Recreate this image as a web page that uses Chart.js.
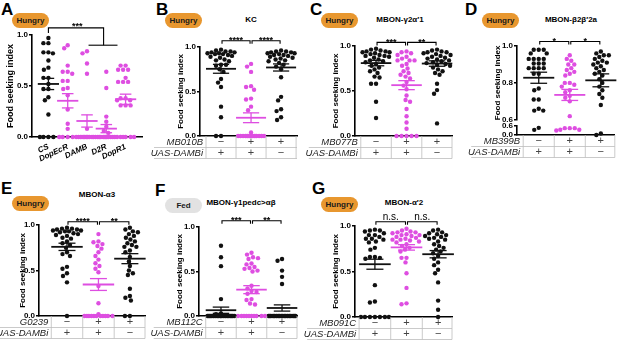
<!DOCTYPE html>
<html lang="en">
<head>
<meta charset="UTF-8">
<title>Food seeking index</title>
<script src="https://cdn.jsdelivr.net/npm/chart.js"></script>
<style>
  body { margin: 0; background: #fff; }
  #fig { position: relative; width: 617px; height: 340px; overflow: hidden; font-family: 'Liberation Sans', Arial, sans-serif; color: #000; }
  #fig canvas { position: absolute; }
  .letter { position: absolute; font-weight: bold; font-size: 17px; line-height: 17px; }
  .pill { position: absolute; width: 37px; height: 15px; line-height: 15px; border-radius: 8px; text-align: center; font-weight: bold; font-size: 8px; color: #1a1a1a; }
  .hungry { background: #e8972f; }
  .fed { background: #e2e2e2; }
  .ptitle { position: absolute; font-weight: bold; font-size: 8px; line-height: 10px; transform: translateX(-50%); white-space: nowrap; }
</style>
</head>
<body>
<div id="fig">
  <div class="letter" style="left:1px;top:1px">A</div>
  <div class="letter" style="left:156px;top:1px">B</div>
  <div class="letter" style="left:310px;top:1px">C</div>
  <div class="letter" style="left:465px;top:1px">D</div>
  <div class="letter" style="left:1px;top:180px">E</div>
  <div class="letter" style="left:155px;top:182px">F</div>
  <div class="letter" style="left:312px;top:180px">G</div>

  <div class="pill hungry" style="left:12px;top:13px">Hungry</div>
  <div class="pill hungry" style="left:165px;top:13px">Hungry</div>
  <div class="pill hungry" style="left:321px;top:13px">Hungry</div>
  <div class="pill hungry" style="left:482px;top:13px">Hungry</div>
  <div class="pill hungry" style="left:12px;top:196px">Hungry</div>
  <div class="pill fed" style="left:165px;top:198px">Fed</div>
  <div class="pill hungry" style="left:321px;top:197px">Hungry</div>

  <div class="ptitle" style="left:251px;top:15px">KC</div>
  <div class="ptitle" style="left:400px;top:15px">MBON-γ2α′1</div>
  <div class="ptitle" style="left:571px;top:15px">MBON-β2β′2a</div>
  <div class="ptitle" style="left:97px;top:190px">MBON-α3</div>
  <div class="ptitle" style="left:241px;top:198px">MBON-γ1pedc&gt;αβ</div>
  <div class="ptitle" style="left:404px;top:198px">MBON-α′2</div>
</div>

<script>
    // ---- values ----
    const aGroups = ['CS', 'DopEcR', 'DAMB', 'D2R', 'DopR1'];
    const aValues = [
        [0.97, 0.92, 0.92, 0.83, 0.82, 0.83, 0.75, 0.68, 0.66, 0.58, 0.58, 0.52, 0.47, 0.47, 0.39, 0.36, 0.22, 0, 0, 0, 0],
        [0.90, 0.87, 0.70, 0.64, 0.64, 0.62, 0.55, 0.55, 0.48, 0.47, 0.41, 0.27, 0.13, 0.08, 0, 0, 0, 0, 0],
        [0.84, 0.82, 0.72, 0.62, 0.08, 0, 0, 0, 0, 0, 0, 0, 0, 0, 0, 0, 0],
        [0.64, 0.48, 0.20, 0.15, 0.10, 0.06, 0.04, 0, 0, 0, 0, 0, 0, 0, 0, 0, 0, 0],
        [0.70, 0.70, 0.66, 0.66, 0.66, 0.58, 0.54, 0.54, 0.54, 0.38, 0.38, 0.36, 0.36, 0.31, 0.31, 0.31, 0, 0, 0, 0, 0, 0]
    ];
    const aMeans = [0.52, 0.355, 0.157, 0.082, 0.37];
    const aSems = [0.055, 0.07, 0.06, 0.04, 0.05];

    // genotype table shared by B-G
    const driverSigns = ['−', '+', '+'];
    const uasSigns = ['+', '+', '−'];
    const uasName = 'UAS-DAMBi';

    const bDriver = 'MB010B';
    const bValues = [
        [0.97, 0.96, 0.95, 0.95, 0.94, 0.94, 0.93, 0.93, 0.92, 0.92, 0.91, 0.90, 0.89, 0.88, 0.86, 0.85, 0.84, 0.80, 0.80, 0.79, 0.75, 0.72, 0.64, 0.60, 0.55, 0.33, 0.21, 0, 0],
        [0.81, 0.78, 0.72, 0.56, 0.55, 0.52, 0.42, 0.41, 0.33, 0.29, 0.04, 0, 0, 0, 0, 0, 0, 0, 0, 0, 0, 0, 0, 0, 0, 0],
        [0.96, 0.95, 0.95, 0.94, 0.94, 0.93, 0.93, 0.92, 0.91, 0.91, 0.90, 0.89, 0.88, 0.87, 0.86, 0.85, 0.84, 0.82, 0.80, 0.78, 0.75, 0.66, 0.44, 0.40, 0.30, 0.28, 0.21, 0.18]
    ];
    const bMeans = [0.755, 0.205, 0.77];
    const bSems = [0.05, 0.055, 0.04];
    const bStars = ['****', '****'];

    const cDriver = 'MB077B';
    const cValues = [
        [0.97, 0.96, 0.95, 0.94, 0.94, 0.93, 0.93, 0.92, 0.91, 0.90, 0.89, 0.89, 0.88, 0.87, 0.85, 0.84, 0.83, 0.82, 0.80, 0.78, 0.76, 0.74, 0.72, 0.70, 0.66, 0.65, 0.58, 0.58, 0.38, 0.20],
        [0.94, 0.93, 0.92, 0.90, 0.88, 0.86, 0.84, 0.84, 0.84, 0.80, 0.78, 0.75, 0.72, 0.70, 0.68, 0.66, 0.64, 0.60, 0.56, 0.52, 0.45, 0.40, 0.38, 0.30, 0.22, 0.15, 0.08, 0, 0, 0, 0, 0],
        [0.96, 0.95, 0.94, 0.93, 0.93, 0.92, 0.91, 0.90, 0.89, 0.88, 0.87, 0.86, 0.85, 0.84, 0.83, 0.82, 0.81, 0.80, 0.79, 0.78, 0.76, 0.74, 0.72, 0.70, 0.68, 0.58, 0.51, 0.47, 0.14]
    ];
    const cMeans = [0.81, 0.565, 0.805];
    const cSems = [0.03, 0.05, 0.03];
    const cStars = ['***', '**'];

    const dDriver = 'MB399B';
    const dValues = [
        [0.98, 0.98, 0.98, 0.96, 0.96, 0.93, 0.93, 0.93, 0.93, 0.905, 0.905, 0.905, 0.88, 0.88, 0.88, 0.88, 0.85, 0.85, 0.77, 0.76, 0.71, 0.71, 0.66, 0.65, 0.65, 0.47, 0.34],
        [0.95, 0.93, 0.92, 0.90, 0.90, 0.88, 0.87, 0.86, 0.85, 0.84, 0.80, 0.80, 0.79, 0.78, 0.76, 0.75, 0.73, 0.72, 0.70, 0.62, 0.45, 0.35, 0.45, 0.30, 0.45, 0.35],
        [0.97, 0.96, 0.95, 0.95, 0.94, 0.93, 0.92, 0.91, 0.91, 0.90, 0.89, 0.88, 0.87, 0.86, 0.85, 0.84, 0.82, 0.80, 0.78, 0.76, 0.74, 0.72, 0.68, 0.10, 0]
    ];
    const dMeans = [0.828, 0.735, 0.814];
    const dSems = [0.03, 0.03, 0.035];
    const dStars = ['*', '*'];

    const eDriver = 'G0239';
    const eValues = [
        [0.97, 0.96, 0.96, 0.95, 0.95, 0.94, 0.94, 0.93, 0.93, 0.92, 0.91, 0.90, 0.89, 0.88, 0.86, 0.85, 0.82, 0.80, 0.78, 0.75, 0.70, 0.68, 0.66, 0.54, 0.52, 0.47, 0.44, 0.37, 0],
        [0.90, 0.82, 0.81, 0.79, 0.77, 0.74, 0.70, 0.66, 0.62, 0.58, 0.55, 0.52, 0.48, 0.33, 0.14, 0.02, 0, 0, 0, 0, 0, 0, 0, 0, 0, 0, 0],
        [0.97, 0.95, 0.93, 0.92, 0.90, 0.88, 0.86, 0.84, 0.82, 0.80, 0.78, 0.76, 0.76, 0.72, 0.70, 0.65, 0.60, 0.55, 0.50, 0.47, 0.45, 0.30, 0.22, 0.20, 0.17, 0, 0]
    ];
    const eMeans = [0.76, 0.346, 0.63];
    const eSems = [0.04, 0.065, 0.055];
    const eStars = ['****', '**'];

    const fDriver = 'MB112C';
    const fValues = [
        [0.79, 0.66, 0.56, 0.19, 0.03, 0.02, 0, 0, 0, 0, 0, 0, 0, 0, 0, 0, 0, 0, 0, 0, 0, 0, 0, 0, 0, 0, 0, 0, 0, 0],
        [0.71, 0.69, 0.66, 0.65, 0.64, 0.59, 0.58, 0.55, 0.54, 0.53, 0.51, 0.50, 0.34, 0.31, 0.28, 0.27, 0.25, 0.19, 0.18, 0.14, 0.13, 0, 0, 0, 0, 0, 0, 0, 0, 0, 0],
        [0.64, 0.62, 0.51, 0.44, 0.36, 0, 0, 0, 0, 0, 0, 0, 0, 0, 0, 0, 0, 0, 0, 0, 0, 0, 0, 0, 0, 0, 0, 0]
    ];
    const fMeans = [0.065, 0.296, 0.09];
    const fSems = [0.035, 0.045, 0.035];
    const fStars = ['***', '**'];

    const gDriver = 'MB091C';
    const gValues = [
        [0.96, 0.95, 0.95, 0.94, 0.92, 0.90, 0.90, 0.88, 0.86, 0.86, 0.85, 0.83, 0.82, 0.76, 0.74, 0.66, 0.66, 0.65, 0.64, 0.35, 0.17, 0.16, 0, 0, 0, 0, 0, 0, 0],
        [0.97, 0.95, 0.94, 0.93, 0.93, 0.92, 0.91, 0.90, 0.90, 0.89, 0.88, 0.87, 0.86, 0.85, 0.85, 0.84, 0.83, 0.82, 0.80, 0.78, 0.76, 0.74, 0.72, 0.65, 0.65, 0.60, 0.48, 0.32, 0.15, 0.14],
        [0.96, 0.95, 0.93, 0.92, 0.91, 0.90, 0.89, 0.88, 0.87, 0.86, 0.85, 0.83, 0.80, 0.78, 0.76, 0.74, 0.72, 0.70, 0.67, 0.64, 0.60, 0.57, 0.52, 0.48, 0.38, 0.18, 0.08, 0]
    ];
    const gMeans = [0.58, 0.765, 0.69];
    const gSems = [0.055, 0.03, 0.04];
    const gStars = ['n.s.', 'n.s.'];

    // ---- drawing ----
    const FONT = "'Liberation Sans', Arial, sans-serif";
    const K = '#111111';
    const M = '#de4ee1';
    const fig = document.getElementById('fig');

    Chart.defaults.font.family = FONT;

    function strokeLine(ctx, x0, y0, x1, y1) {
        ctx.beginPath();
        ctx.moveTo(x0, y0);
        ctx.lineTo(x1, y1);
        ctx.stroke();
    }

    // spread points of one column sideways so they do not sit on top of each other
    function swarm(chart, p) {
        const xs = chart.scales.x;
        const col = Math.abs(xs.getPixelForValue(1) - xs.getPixelForValue(0));
        const half = col * p.spread / 2;
        const dia = 4.6;
        const steps = Math.floor(half / 0.5);
        chart.data.datasets.forEach(ds => {
            const ys = chart.scales[ds.yAxisID];
            const pts = ds.data.map(d => ({ d, py: ys.getPixelForValue(d.y) })).sort((a, b) => a.py - b.py);
            const placed = [];
            pts.forEach(pt => {
                let best = 0, bestScore = -Infinity;
                for (let k = -steps; k <= steps; k++) {
                    const off = k * 0.5;
                    let md = Infinity;
                    placed.forEach(q => { md = Math.min(md, Math.hypot(q.off - off, q.py - pt.py)); });
                    const score = md >= dia ? 1000 - Math.abs(off) : md - Math.abs(off) * 0.001;
                    if (score > bestScore) { bestScore = score; best = off; }
                }
                placed.push({ off: best, py: pt.py });
                pt.d.x = ds.group + best / col;
            });
        });
        chart.update('none');
    }

    function makePanel(p) {
        const [bx, by, bw, bh] = p.box;
        const [ax, top, right, bottom] = p.plot;
        const cv = document.createElement('canvas');
        cv.width = bw;
        cv.height = bh;
        cv.style.left = bx + 'px';
        cv.style.top = by + 'px';
        fig.appendChild(cv);

        const datasets = [];
        p.values.forEach((vals, i) => {
            const parts = p.broken
                ? [['yBot', vals.filter(v => v < p.broken)], ['yTop', vals.filter(v => v >= p.broken)]]
                : [['y', vals]];
            parts.forEach(([axisId, vs]) => {
                datasets.push({
                    group: i,
                    yAxisID: axisId,
                    data: vs.map(v => ({ x: i, y: v })),
                    backgroundColor: p.colors[i],
                    borderWidth: 0,
                    pointRadius: 2.2,
                    pointHoverRadius: 2.2,
                    clip: false
                });
            });
        });

        const yStyle = (extra) => Object.assign({
            type: 'linear',
            position: 'left',
            border: { color: '#000', width: 1.6 },
            grid: { drawOnChartArea: false, drawTicks: true, tickLength: 3, color: '#000', lineWidth: 1.4 },
            ticks: { color: '#000', padding: 1, autoSkip: false, font: { size: 8, weight: 'bold' }, callback: v => Number(v).toFixed(1) },
            afterFit: s => { s.width = p.yW; s.paddingTop = 0; s.paddingBottom = 0; }
        }, extra);
        const yTitle = { display: true, text: 'Food seeking index', color: '#000', padding: 0, font: { size: p.titleSize || 8, weight: 'bold' } };

        const scales = {
            x: {
                type: 'linear',
                min: p.xMin,
                max: p.xMax,
                border: { color: '#000', width: 1.6 },
                grid: { display: false },
                ticks: { display: false },
                afterFit: s => { s.height = p.xH; s.paddingLeft = 0; s.paddingRight = 0; }
            }
        };
        if (p.names) {
            scales.x.ticks = {
                display: true, color: '#000', padding: -3, autoSkip: false, minRotation: 25, maxRotation: 25,
                font: { size: 8, weight: 'bold', style: 'italic' },
                callback: v => p.names[v]
            };
            scales.x.afterBuildTicks = s => { s.ticks = p.names.map((_, i) => ({ value: i })); };
        }
        if (p.broken) {
            // broken axis: three stacked scales (lower part, gap, upper part)
            scales.yBot = yStyle({ min: 0, max: p.broken, stack: 'd', stackWeight: 9,
                afterBuildTicks: s => { s.ticks = [{ value: 0 }, { value: p.broken }]; } });
            scales.yGap = yStyle({ min: 0, max: 1, stack: 'd', stackWeight: 6,
                border: { display: false }, grid: { display: false }, ticks: { display: false } });
            scales.yTop = yStyle({ min: p.broken, max: 1, stack: 'd', stackWeight: 73, title: yTitle,
                ticks: { color: '#000', padding: 1, autoSkip: false, stepSize: 0.2, font: { size: 8, weight: 'bold' }, callback: v => Number(v).toFixed(1) } });
        } else {
            scales.y = yStyle({ min: 0, max: 1, title: yTitle,
                ticks: { color: '#000', padding: 1, autoSkip: false, stepSize: 0.5, font: { size: 8, weight: 'bold' }, callback: v => Number(v).toFixed(1) } });
        }
        const mainY = p.broken ? 'yTop' : 'y';

        const extras = {
            id: 'extras',
            afterDatasetsDraw(chart) {
                const ctx = chart.ctx;
                const xs = chart.scales.x, ys = chart.scales[mainY];
                const X = v => xs.getPixelForValue(v), Y = v => ys.getPixelForValue(v);
                ctx.save();
                // mean and SEM
                p.means.forEach((m, i) => {
                    const s = p.sems[i];
                    ctx.strokeStyle = p.colors[i];
                    ctx.lineWidth = 1.8;
                    strokeLine(ctx, X(i - p.meanHalf), Y(m), X(i + p.meanHalf), Y(m));
                    ctx.lineWidth = 1.3;
                    strokeLine(ctx, X(i - p.semHalf), Y(m + s), X(i + p.semHalf), Y(m + s));
                    strokeLine(ctx, X(i - p.semHalf), Y(m - s), X(i + p.semHalf), Y(m - s));
                    strokeLine(ctx, X(i), Y(m - s), X(i), Y(m + s));
                });
                // significance brackets
                ctx.strokeStyle = '#000';
                ctx.fillStyle = '#000';
                ctx.lineWidth = 1.1;
                ctx.textAlign = 'center';
                (p.stars || []).forEach((txt, i) => {
                    const x0 = X(i) + 1, x1 = X(i + 1) - 1, y = Y(p.starY);
                    ctx.beginPath();
                    ctx.moveTo(x0, y + 3);
                    ctx.lineTo(x0, y);
                    ctx.lineTo(x1, y);
                    ctx.lineTo(x1, y + 3);
                    ctx.stroke();
                    if (txt === 'n.s.') {
                        ctx.font = '10px ' + FONT;
                        ctx.fillText(txt, (x0 + x1) / 2, y - 2);
                    } else {
                        ctx.font = 'bold 9px ' + FONT;
                        ctx.fillText(txt, (x0 + x1) / 2, y + 2.5);
                    }
                });
                (p.paths || []).forEach(path => {
                    ctx.beginPath();
                    path.forEach(([vx, vy], k) => k ? ctx.lineTo(X(vx), Y(vy)) : ctx.moveTo(X(vx), Y(vy)));
                    ctx.stroke();
                });
                (p.notes || []).forEach(n => {
                    ctx.font = 'bold 9px ' + FONT;
                    ctx.fillText(n.text, X(n.x), Y(n.y) + 1);
                });
                // genotype table under the axis
                if (p.rows) {
                    const yb = chart.chartArea.bottom;
                    const xr = chart.chartArea.right;
                    const xl = X(-0.5);
                    ctx.strokeStyle = '#bdbdbd';
                    ctx.lineWidth = 0.8;
                    strokeLine(ctx, xl - 52, yb + 11.5, xr, yb + 11.5);
                    strokeLine(ctx, xl - 52, yb + 22.5, xr, yb + 22.5);
                    for (let i = 0; i <= p.values.length; i++) {
                        const x = Math.min(X(i - 0.5), xr);
                        strokeLine(ctx, x, yb, x, yb + 22.5);
                    }
                    ctx.textBaseline = 'middle';
                    p.rows.forEach((row, r) => {
                        const cy = yb + 6 + 11 * r;
                        ctx.fillStyle = '#222';
                        ctx.textAlign = 'right';
                        ctx.font = 'italic 9.5px ' + FONT;
                        ctx.fillText(row.label, xl - 3, cy);
                        ctx.textAlign = 'center';
                        ctx.font = '11px ' + FONT;
                        ctx.fillStyle = '#444';
                        row.signs.forEach((sg, i) => ctx.fillText(sg, X(i), cy));
                    });
                }
                ctx.restore();
            }
        };

        const chart = new Chart(cv, {
            type: 'scatter',
            data: { datasets },
            options: {
                responsive: false,
                animation: false,
                devicePixelRatio: 1,
                layout: {
                    padding: {
                        left: ax - bx - p.yW,
                        top: top - by,
                        right: bx + bw - right,
                        bottom: by + bh - bottom - p.xH
                    }
                },
                plugins: { legend: { display: false }, tooltip: { enabled: false } },
                scales
            },
            plugins: [extras]
        });
        swarm(chart, p);
        return chart;
    }

    function tableRows(driver) {
        return [{ label: driver, signs: driverSigns }, { label: uasName, signs: uasSigns }];
    }

    const three = { colors: [K, M, K], meanHalf: 0.5, semHalf: 0.27, spread: 0.9, yW: 24, xH: 0 };

    makePanel({
        values: aValues, means: aMeans, sems: aSems, names: aGroups,
        colors: [K, M, M, M, M], meanHalf: 0.55, semHalf: 0.3, spread: 0.9,
        box: [0, 16, 150, 152], plot: [32, 35, 142, 137], yW: 27, xH: 30, titleSize: 9,
        xMin: -0.85, xMax: 4.85,
        paths: [[[0, 1.02], [0, 1.07], [2.86, 1.07], [2.86, 0.90]], [[2.08, 0.90], [3.58, 0.90]]],
        notes: [{ x: 1.5, y: 1.07, text: '***' }]
    });
    makePanel(Object.assign({}, three, {
        values: bValues, means: bMeans, sems: bSems, stars: bStars, starY: 1.07, rows: tableRows(bDriver),
        box: [146, 28, 154, 138], plot: [200, 47, 297, 136], xMin: -0.7, xMax: 2.53
    }));
    makePanel(Object.assign({}, three, {
        values: cValues, means: cMeans, sems: cSems, stars: cStars, starY: 1.04, rows: tableRows(cDriver),
        box: [300, 28, 155, 138], plot: [355, 46, 452, 136], xMin: -0.69, xMax: 2.49
    }));
    makePanel(Object.assign({}, three, {
        values: dValues, means: dMeans, sems: dSems, stars: dStars, starY: 1.024, rows: tableRows(dDriver), broken: 0.6,
        box: [460, 28, 157, 138], plot: [517, 46, 615, 135], xMin: -0.7, xMax: 2.45
    }));
    makePanel(Object.assign({}, three, {
        values: eValues, means: eMeans, sems: eSems, stars: eStars, starY: 1.036, rows: tableRows(eDriver),
        box: [-12, 205, 160, 135], plot: [39, 225, 145, 316], yW: 21, xMin: -0.89, xMax: 2.48
    }));
    makePanel(Object.assign({}, three, {
        values: fValues, means: fMeans, sems: fSems, stars: fStars, starY: 1.07, rows: tableRows(fDriver),
        box: [146, 205, 154, 135], plot: [199, 227, 297, 316], xMin: -0.72, xMax: 2.49
    }));
    makePanel(Object.assign({}, three, {
        values: gValues, means: gMeans, sems: gSems, stars: gStars, starY: 1.047, rows: tableRows(gDriver),
        box: [300, 205, 155, 135], plot: [355, 226, 452, 317], xMin: -0.63, xMax: 2.44
    }));
</script>
</body>
</html>
